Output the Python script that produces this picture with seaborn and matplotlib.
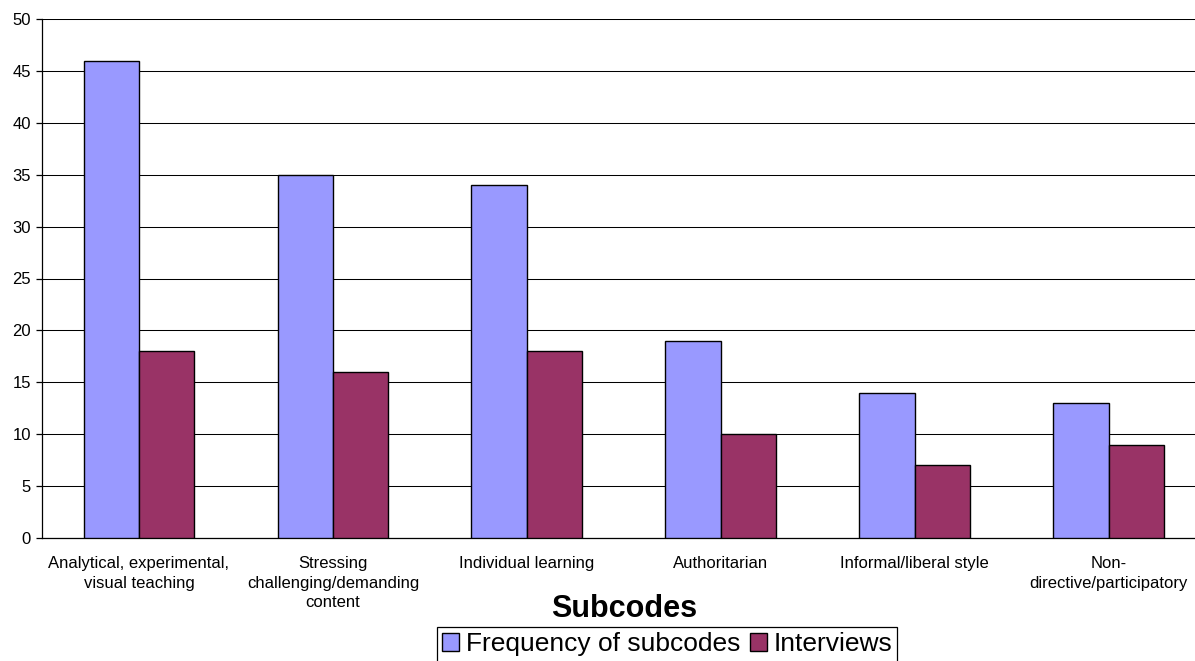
import matplotlib
matplotlib.use("Agg")
import matplotlib.pyplot as plt
from matplotlib.patches import Patch
import seaborn as sns
import pandas as pd
import numpy as np

categories = [
    "Analytical, experimental,\nvisual teaching",
    "Stressing\nchallenging/demanding\ncontent",
    "Individual learning",
    "Authoritarian",
    "Informal/liberal style",
    "Non-\ndirective/participatory",
]
series_names = ["Frequency of subcodes", "Interviews"]
frequency = [46, 35, 34, 19, 14, 13]
interviews = [18, 16, 18, 10, 7, 9]
colors = ["#9999FF", "#993366"]
y_ticks = list(range(0, 55, 5))

df = pd.DataFrame({
    "category": categories * 2,
    "series": [series_names[0]] * len(categories) + [series_names[1]] * len(categories),
    "value": frequency + interviews,
})

sns.set_theme(style="white")
plt.rcParams["font.family"] = ["Liberation Sans", "DejaVu Sans"]
plt.rcParams["text.color"] = "black"
plt.rcParams["xtick.color"] = "black"
plt.rcParams["ytick.color"] = "black"

W, H = 1195, 661
fig = plt.figure(figsize=(W / 100, H / 100), dpi=100)
# plot area runs past the right edge of the canvas
left, right, top, bottom = 42, 1205.5, 19, 538
ax = fig.add_axes([left / W, 1 - bottom / H, (right - left) / W, (bottom - top) / H])

sns.barplot(
    data=df, x="category", y="value", hue="series",
    order=categories, hue_order=series_names,
    palette=colors, width=0.571, dodge=True,
    edgecolor="black", linewidth=1.0, saturation=1, ax=ax, legend=False,
    zorder=3,
)

ax.set_xlim(-0.5, len(categories) - 0.5)
ax.set_ylim(0, 50)
ax.set_yticks(y_ticks)
ax.yaxis.grid(True, color="black", linewidth=0.75, zorder=0)
ax.set_axisbelow(True)

for s in ["top", "right"]:
    ax.spines[s].set_visible(False)
for s in ["left", "bottom"]:
    ax.spines[s].set_color("black")
    ax.spines[s].set_linewidth(0.9)

ax.set_xticks(np.arange(len(categories)))
ax.set_xticklabels(categories, fontsize=12, linespacing=1.38, va="top", color="black")
ax.set_xticks(np.arange(len(categories) + 1) - 0.5, minor=True)
ax.tick_params(axis="x", which="major", length=0, pad=13)
ax.tick_params(axis="x", which="minor", length=4, width=0.9, color="black", direction="out")
ax.tick_params(axis="y", which="major", length=4, width=0.9, color="black",
               direction="out", left=True, labelsize=12, pad=4, labelcolor="black")
ax.set_xlabel("")
ax.set_ylabel("")

fig.text((left + right) / 2 / W, 1 - 609 / H, "Subcodes", fontsize=22,
         fontweight="bold", ha="center", va="center", color="black")

handles = [Patch(facecolor=c, edgecolor="black", linewidth=1.0) for c in colors]
leg = fig.legend(
    handles, series_names, loc="upper left",
    bbox_to_anchor=(437 / W, 1 - 627 / H), ncol=2, fontsize=19,
    frameon=True, fancybox=False, edgecolor="black", framealpha=1,
    handlelength=0.65, handleheight=0.65, handletextpad=0.25,
    columnspacing=0.35, borderpad=0.2, borderaxespad=0,
)
leg.get_frame().set_linewidth(0.9)
for t in leg.get_texts():
    t.set_color("black")

fig.savefig("out.png", dpi=100)
